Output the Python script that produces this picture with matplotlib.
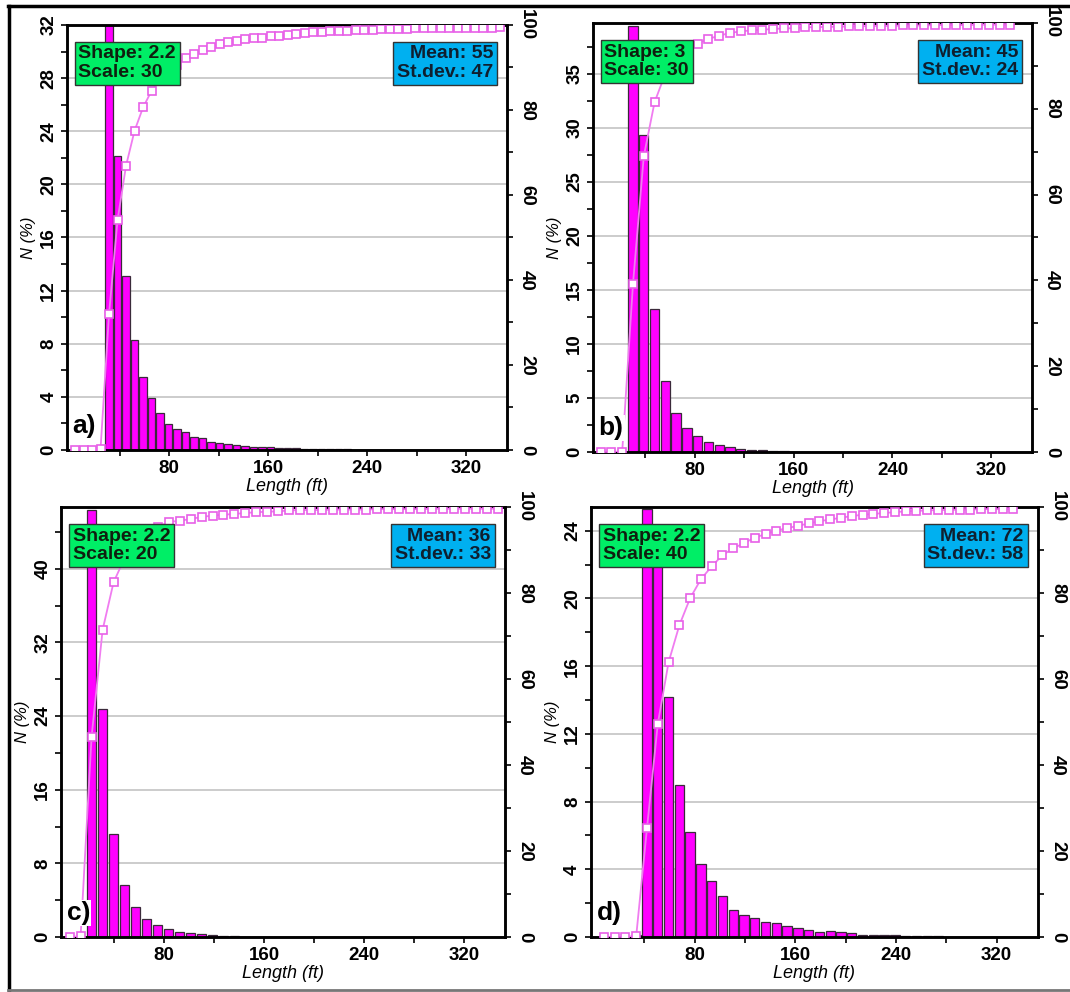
import matplotlib
matplotlib.use("Agg")
import matplotlib.pyplot as plt
import numpy as np
from matplotlib.lines import Line2D
from matplotlib.ticker import FixedLocator, MultipleLocator

plt.rcParams['font.family'] = ['Liberation Sans', 'DejaVu Sans']
plt.rcParams['font.weight'] = 'bold'

# ---- data ----
# bin centre of first bin and bin width, in ft
a_first, a_bin = 4.0, 6.87
a_pct = [0, 0, 0, 0,
         32.0, 22.1, 13.1, 8.3, 5.5, 3.9, 2.8, 1.96, 1.57, 1.35,
         1.0, 0.9, 0.6, 0.5, 0.43, 0.35, 0.33, 0.25, 0.22, 0.2,
         0.18, 0.15, 0.12, 0.1, 0.1, 0.08, 0.06,
         0.04, 0.04, 0.03, 0.03, 0.02, 0.02, 0.02, 0.01, 0.01, 0.01,
         0, 0, 0, 0, 0, 0, 0, 0, 0, 0]
a_cdf = [0, 0, 0, 0.2,
         32.0, 54.1, 66.9, 75.1, 80.6, 84.5, 87.3, 89.3, 90.7, 92.2,
         93.1, 94.1, 94.9, 95.5, 96.0, 96.3, 96.6, 96.9, 97.0, 97.3,
         97.5, 97.7, 97.9, 98.1, 98.3, 98.4, 98.5, 98.6, 98.7, 98.8,
         98.9, 98.9, 99.0, 99.0, 99.1, 99.1, 99.2, 99.2, 99.2, 99.3,
         99.3, 99.3, 99.4, 99.4, 99.4, 99.4, 99.5]

b_first, b_bin = 3.7, 8.73
b_pct = [0, 0, 0,
         39.4, 29.3, 13.2, 6.55, 3.65, 2.25, 1.45, 0.95, 0.6, 0.44,
         0.28, 0.22, 0.2, 0.1, 0.06, 0.04, 0.03, 0.02, 0.02, 0.01,
         0, 0, 0, 0, 0, 0, 0, 0, 0, 0, 0, 0, 0, 0, 0, 0]
b_cdf = [0, 0, 0.1,
         39.2, 68.9, 81.5, 88.2, 91.8, 94.1, 95.2, 96.3, 97.0, 97.7,
         98.0, 98.3, 98.4, 98.6, 98.7, 98.8, 99.0, 99.0, 99.1, 99.1,
         99.2, 99.2, 99.3, 99.3, 99.3, 99.4, 99.4, 99.4, 99.5, 99.5,
         99.5, 99.5, 99.6, 99.6, 99.6, 99.6]

c_first, c_bin = 4.4, 8.8
c_pct = [0, 0,
         46.4, 24.8, 11.2, 5.6, 3.3, 1.95, 1.3, 0.87, 0.6, 0.42,
         0.35, 0.2, 0.1, 0.08, 0.05, 0.03,
         0, 0, 0, 0, 0, 0, 0, 0, 0, 0, 0, 0, 0, 0, 0, 0, 0, 0, 0, 0, 0, 0]
c_cdf = [0, 0.2,
         46.6, 71.4, 82.5, 88.1, 91.5, 93.7, 95.3, 96.5, 96.8, 97.2,
         97.7, 98.0, 98.2, 98.4, 98.6, 98.8, 98.9, 99.0, 99.2, 99.3,
         99.3, 99.3, 99.4, 99.4, 99.4, 99.4, 99.5, 99.5, 99.5, 99.5,
         99.5, 99.6, 99.6, 99.6, 99.6, 99.6, 99.6, 99.6]

d_first, d_bin = 7.8, 8.57
d_pct = [0, 0, 0, 0.15,
         25.3, 24.2, 14.2, 9.0, 6.2, 4.3, 3.3, 2.45, 1.6, 1.3,
         1.1, 0.9, 0.83, 0.65, 0.55, 0.4, 0.3, 0.35, 0.3, 0.22,
         0.15, 0.12, 0.1, 0.1, 0.08, 0.06, 0.05, 0.04, 0.03, 0.02,
         0.01, 0, 0, 0, 0]
d_cdf = [0, 0, 0, 0.3,
         25.4, 49.6, 63.9, 72.5, 78.8, 83.2, 86.2, 88.8, 90.4, 91.6,
         92.9, 93.7, 94.5, 95.1, 95.6, 96.2, 96.7, 97.1, 97.5, 97.9,
         98.2, 98.4, 98.6, 98.8, 99.0, 99.1, 99.2, 99.3, 99.3, 99.4,
         99.4, 99.5, 99.5, 99.5, 99.6]

labels = ["a)", "b)", "c)", "d)"]
shapes = ["2.2", "3", "2.2", "2.2"]
scales = ["30", "30", "20", "40"]
means = ["55", "45", "36", "72"]
stdevs = ["47", "24", "33", "58"]
ymax = [32, 39.7, 46.7, 25.4]
ystep = [4, 5, 8, 4]

firsts = [a_first, b_first, c_first, d_first]
bins = [a_bin, b_bin, c_bin, d_bin]
pcts = [a_pct, b_pct, c_pct, d_pct]
cdfs = [a_cdf, b_cdf, c_cdf, d_cdf]

# axes boxes in figure fractions
boxes = [[0.0626, 0.5464, 0.4112, 0.4284],
         [0.5542, 0.5444, 0.4103, 0.4325],
         [0.0570, 0.0554, 0.4150, 0.4335],
         [0.5523, 0.0554, 0.4178, 0.4335]]

fig = plt.figure(figsize=(10.7, 9.92), dpi=100)

for i in range(4):
    ax = fig.add_axes(boxes[i])
    x = firsts[i] + bins[i] * np.arange(len(pcts[i]))
    ax.bar(x, pcts[i], width=0.86 * bins[i], color='#ff00ff',
           edgecolor='#3a2a3a', linewidth=0.9, zorder=2)
    ax.set_xlim(-2.5, 353)
    ax.set_ylim(0, ymax[i])
    ax.set_axisbelow(True)

    yt = np.arange(0, ymax[i] + 0.01, ystep[i])
    ax.set_yticks(yt)
    ax.set_yticklabels([f"{v:g}" for v in yt], rotation=90, va='center')
    ax.yaxis.set_minor_locator(MultipleLocator(ystep[i] / 2))
    ax.xaxis.set_major_locator(FixedLocator([80, 160, 240, 320]))
    ax.xaxis.set_minor_locator(FixedLocator([40, 120, 200, 280]))
    ax.grid(axis='y', which='major', color='#c8c8c8', linewidth=1.3, zorder=0)
    ax.tick_params(which='both', direction='out', length=4, width=1.2,
                   labelsize=13.5, pad=3)
    ax.set_xlabel("Length (ft)", fontsize=13, fontstyle='italic', labelpad=1)
    ax.set_ylabel("N (%)", fontsize=12, fontstyle='italic', labelpad=3)

    ax2 = ax.twinx()
    ax2.plot(x, cdfs[i], color='#f07cf0', linewidth=1.3, marker='s',
             markersize=6, markerfacecolor='white',
             markeredgecolor='#e860e8', markeredgewidth=1.2, zorder=3)
    ax2.set_ylim(0, 100)
    ax2.set_yticks([0, 20, 40, 60, 80, 100])
    ax2.set_yticklabels(["0", "20", "40", "60", "80", "100"],
                        rotation=-90, va='center', ha='left')
    ax2.yaxis.set_minor_locator(MultipleLocator(10))
    ax2.tick_params(which='both', direction='out', length=4, width=1.2,
                    labelsize=13.5, pad=4)

    for a in (ax, ax2):
        for s in a.spines.values():
            s.set_linewidth(1.8)
            s.set_color('black')

    ax2.text(0.026, 0.952, f"Shape: {shapes[i]}\nScale: {scales[i]}",
             transform=ax2.transAxes, ha='left', va='top', fontsize=14,
             color='#0f1f0f', linespacing=1.1, zorder=6,
             bbox=dict(boxstyle='square,pad=0.2', facecolor='#00ee66',
                       edgecolor='#333333', linewidth=1.0))
    ax2.text(0.968, 0.952, f"Mean: {means[i]}\nSt.dev.: {stdevs[i]}",
             transform=ax2.transAxes, ha='right', va='top', fontsize=14,
             color='#0f1f2f', linespacing=1.1, zorder=6,
             bbox=dict(boxstyle='square,pad=0.2', facecolor='#00b0f0',
                       edgecolor='#333333', linewidth=1.0))
    ax2.text(0.013, 0.028, labels[i], transform=ax2.transAxes, ha='left',
             va='bottom', fontsize=19, zorder=6,
             bbox=dict(boxstyle='square,pad=0.04', facecolor='white',
                       edgecolor='none'))

# outer frame
fig.add_artist(Line2D([8 / 1070, 1.0], [1 - 6 / 992, 1 - 6 / 992],
                      transform=fig.transFigure, color='black', linewidth=2.5))
fig.add_artist(Line2D([8.5 / 1070, 8.5 / 1070], [1 - 990 / 992, 1 - 6 / 992],
                      transform=fig.transFigure, color='black', linewidth=2.5))
fig.add_artist(Line2D([8 / 1070, 1.0], [1 - 990 / 992, 1 - 990 / 992],
                      transform=fig.transFigure, color='#777777', linewidth=2))

fig.savefig("out.png", dpi=100)
